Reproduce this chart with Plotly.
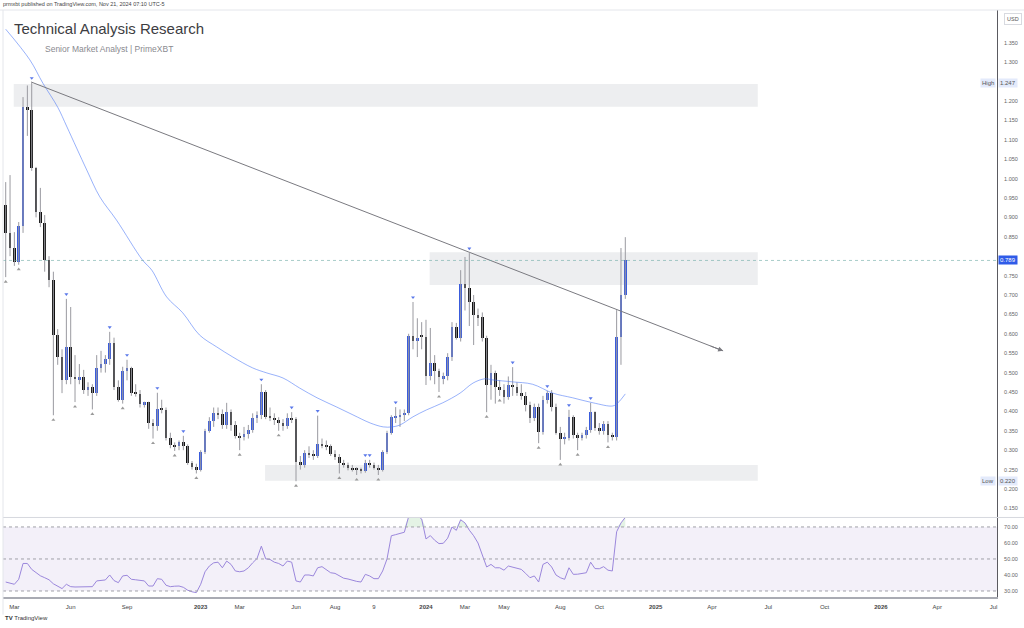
import pandas as pd
import plotly.graph_objects as go

# ---------------- data (weekly candles) ----------------
start_week = "2022-02-21"
open_ = [0.932,0.860,0.821,0.785,0.878,1.184,1.178,1.027,0.914,0.886,
         0.790,0.739,0.597,0.540,0.481,0.566,0.489,0.483,0.488,0.455,
         0.462,0.447,0.512,0.522,0.535,0.577,0.462,0.430,0.504,0.512,
         0.447,0.445,0.419,0.423,0.370,0.362,0.406,0.404,0.331,0.313,
         0.310,0.321,0.310,0.267,0.257,0.249,0.295,0.350,0.375,0.396,
         0.393,0.365,0.398,0.365,0.337,0.333,0.342,0.352,0.383,0.390,
         0.450,0.386,0.384,0.378,0.370,0.362,0.383,0.380,0.270,0.262,
         0.293,0.290,0.286,0.316,0.313,0.310,0.290,0.283,0.267,0.262,
         0.255,0.251,0.249,0.247,0.267,0.262,0.255,0.248,0.295,0.345,
         0.383,0.386,0.390,0.396,0.594,0.581,0.594,0.592,0.491,0.525,
         0.503,0.486,0.491,0.540,0.617,0.590,0.728,0.718,0.682,0.648,
         0.643,0.589,0.468,0.499,0.463,0.455,0.437,0.468,0.463,0.447,
         0.440,0.416,0.383,0.411,0.347,0.429,0.447,0.411,0.344,0.329,
         0.332,0.386,0.339,0.331,0.340,0.352,0.398,0.357,0.349,0.367,
         0.339,0.334,0.592,0.700]
high = [0.991,1.009,0.862,0.888,1.210,1.240,1.247,1.030,0.976,0.906,
        0.800,0.760,0.612,0.560,0.690,0.669,0.545,0.522,0.507,0.475,
        0.470,0.545,0.556,0.545,0.605,0.590,0.480,0.515,0.533,0.515,
        0.470,0.455,0.425,0.425,0.380,0.448,0.430,0.410,0.345,0.320,
        0.325,0.337,0.315,0.272,0.265,0.300,0.355,0.385,0.410,0.410,
        0.405,0.422,0.405,0.375,0.345,0.360,0.365,0.395,0.400,0.470,
        0.455,0.410,0.395,0.385,0.380,0.395,0.398,0.385,0.285,0.300,
        0.310,0.300,0.389,0.330,0.325,0.315,0.300,0.290,0.275,0.268,
        0.262,0.256,0.255,0.275,0.275,0.268,0.262,0.300,0.350,0.390,
        0.411,0.405,0.405,0.600,0.682,0.640,0.630,0.636,0.615,0.545,
        0.510,0.500,0.550,0.630,0.628,0.764,0.798,0.808,0.700,0.665,
        0.655,0.595,0.520,0.505,0.480,0.470,0.490,0.514,0.475,0.470,
        0.450,0.425,0.420,0.420,0.440,0.453,0.455,0.420,0.360,0.345,
        0.404,0.390,0.345,0.345,0.360,0.422,0.400,0.370,0.375,0.375,
        0.345,0.661,0.821,0.849]
low = [0.746,0.800,0.775,0.778,0.860,1.110,1.020,0.900,0.875,0.760,
       0.720,0.390,0.520,0.447,0.470,0.470,0.424,0.470,0.445,0.440,
       0.405,0.440,0.500,0.500,0.520,0.455,0.425,0.420,0.480,0.440,
       0.438,0.410,0.410,0.355,0.330,0.350,0.395,0.325,0.305,0.298,
       0.300,0.300,0.262,0.250,0.240,0.245,0.290,0.345,0.360,0.380,
       0.355,0.355,0.350,0.330,0.300,0.325,0.330,0.345,0.370,0.380,
       0.380,0.375,0.365,0.350,0.350,0.355,0.370,0.220,0.250,0.255,
       0.280,0.275,0.280,0.305,0.300,0.285,0.275,0.240,0.255,0.248,
       0.245,0.236,0.240,0.242,0.255,0.250,0.236,0.245,0.290,0.340,
       0.370,0.360,0.375,0.390,0.560,0.540,0.560,0.468,0.480,0.470,
       0.450,0.470,0.480,0.530,0.585,0.580,0.660,0.620,0.571,0.620,
       0.580,0.398,0.430,0.420,0.440,0.420,0.430,0.440,0.440,0.430,
       0.400,0.370,0.375,0.318,0.340,0.420,0.400,0.340,0.275,0.315,
       0.325,0.330,0.300,0.325,0.330,0.345,0.350,0.340,0.340,0.320,
       0.325,0.325,0.520,0.690]
close = [0.860,0.821,0.785,0.878,1.184,1.178,1.027,0.914,0.886,0.790,
         0.739,0.597,0.540,0.481,0.566,0.489,0.483,0.488,0.455,0.462,
         0.447,0.512,0.522,0.535,0.577,0.462,0.430,0.504,0.512,0.447,
         0.445,0.419,0.423,0.370,0.362,0.406,0.404,0.331,0.313,0.310,
         0.321,0.310,0.267,0.257,0.249,0.295,0.350,0.375,0.396,0.393,
         0.365,0.398,0.365,0.337,0.333,0.342,0.352,0.383,0.390,0.450,
         0.386,0.384,0.378,0.370,0.362,0.383,0.380,0.270,0.262,0.293,
         0.290,0.286,0.316,0.313,0.310,0.290,0.283,0.267,0.262,0.255,
         0.251,0.249,0.247,0.267,0.262,0.255,0.248,0.295,0.345,0.386,
         0.386,0.390,0.396,0.594,0.581,0.590,0.592,0.491,0.525,0.503,
         0.489,0.491,0.540,0.617,0.590,0.728,0.718,0.682,0.648,0.643,
         0.589,0.468,0.499,0.463,0.455,0.437,0.468,0.463,0.447,0.440,
         0.416,0.383,0.411,0.347,0.429,0.447,0.411,0.344,0.329,0.332,
         0.386,0.339,0.331,0.340,0.352,0.398,0.357,0.349,0.367,0.339,
         0.334,0.592,0.700,0.789]

rsi = [35.6,35.0,34.2,37.3,47.2,47.2,43.5,41.5,39.5,38.3,
       37.0,34.5,33.1,31.5,34.2,32.7,32.5,32.5,32.3,32.7,
       32.7,36.3,36.5,36.9,40.0,36.5,35.2,39.4,39.8,37.3,
       37.0,36.6,36.3,33.1,33.1,37.7,37.3,33.6,32.7,33.0,
       33.1,32.3,30.5,29.5,29.0,34.2,42.0,45.6,47.6,48.0,
       44.5,48.7,46.6,42.5,42.0,42.5,44.5,47.6,50.3,58.0,
       50.1,49.7,48.0,47.2,45.6,48.7,48.0,36.3,35.6,40.0,
       40.0,39.4,44.5,45.2,43.0,41.4,41.0,39.4,38.0,37.5,
       36.7,36.0,35.6,40.4,39.4,37.7,37.7,42.5,50.0,64.5,
       65.2,65.9,66.7,76.5,78.0,77.0,75.0,62.5,64.6,61.7,
       59.6,59.8,63.0,70.0,67.9,74.5,72.5,68.0,64.5,60.0,
       53.0,45.0,46.6,44.5,44.5,43.0,45.6,45.0,44.5,43.5,
       41.0,38.3,39.4,35.6,46.6,48.0,45.0,40.0,38.3,37.3,
       44.5,40.4,40.5,40.8,41.4,48.0,44.0,43.9,45.2,43.0,
       42.5,67.0,72.5,76.0]

ma_dates = ["2022-02-21","2022-04-01","2022-04-22","2022-05-16","2022-05-31",
            "2022-07-02","2022-07-23","2022-08-19","2022-09-30","2022-10-15",
            "2022-11-08","2022-12-04","2022-12-31","2023-01-28","2023-02-23",
            "2023-03-27","2023-04-19","2023-05-15","2023-06-11","2023-07-09",
            "2023-08-10","2023-09-05","2023-10-03","2023-10-24","2023-11-07",
            "2023-11-20","2023-12-11","2024-01-02","2024-01-28","2024-02-25",
            "2024-03-17","2024-04-05","2024-04-18","2024-05-20","2024-06-21",
            "2024-07-24","2024-08-25","2024-09-27","2024-10-29","2024-11-06",
            "2024-11-18"]
ma_values = [1.385,1.306,1.246,1.184,1.133,1.022,0.953,0.893,0.790,0.764,
             0.695,0.654,0.597,0.566,0.540,0.512,0.499,0.486,0.460,0.435,
             0.411,0.391,0.370,0.360,0.360,0.365,0.386,0.404,0.422,0.447,
             0.473,0.484,0.481,0.476,0.470,0.447,0.435,0.422,0.414,0.422,
             0.445]

pivot_high_idx = [6,14,24,28,35,41,59,66,72,83,84,90,94,107,117,125,130,135]
pivot_low_idx = [0,3,11,16,20,27,34,39,44,54,63,67,77,81,86,100,111,114,123,128,132,139]

trend_dates = ["2022-04-03", "2025-04-25"]
trend_prices = [1.249, 0.556]

zones = [  # (start date, end date, bottom price, top price)
    ("2022-03-06", "2025-06-20", 1.185, 1.244),
    ("2024-01-07", "2025-06-20", 0.726, 0.810),
    ("2023-04-16", "2025-06-20", 0.221, 0.262),
]

tick_dates = ["2022-03-07","2022-06-06","2022-09-05","2023-01-02","2023-03-06",
              "2023-06-05","2023-08-07","2023-10-09","2024-01-01","2024-03-04",
              "2024-05-06","2024-08-05","2024-10-07","2025-01-06","2025-04-07",
              "2025-07-07","2025-10-06","2026-01-05","2026-04-06","2026-07-06"]
tick_text = ["Mar","Jun","Sep","<b>2023</b>","Mar","Jun","Aug","9","<b>2024</b>","Mar",
             "May","Aug","Oct","<b>2025</b>","Apr","Jul","Oct","<b>2026</b>","Apr","Jul"]

# price scale labels (1.250 and 0.800 sit under the High / last-price badges)
price_ticks = [0.15, 0.20, 0.25, 0.30, 0.35, 0.40, 0.45, 0.50, 0.55, 0.60, 0.65,
               0.70, 0.75, 0.85, 0.90, 0.95, 1.00, 1.05, 1.10, 1.15, 1.20,
               1.30, 1.35]
rsi_ticks = [30, 40, 50, 60, 70]

# ---------------- styling ----------------
UP = "#3a5cdc"
DOWN = "#121212"
WICK = "#9a9aa0"
FONT = "Liberation Sans"

dates = pd.date_range(start_week, periods=len(close), freq="7D")
week_ms = 7 * 24 * 3600 * 1000

fig = go.Figure()

# wicks
wx, wy = [], []
for d, lo, hi in zip(dates, low, high):
    wx += [d, d, None]
    wy += [lo, hi, None]
fig.add_trace(go.Scatter(x=wx, y=wy, mode="lines", line=dict(color=WICK, width=1),
                         hoverinfo="skip", showlegend=False))

# bodies
base = [min(o, c) for o, c in zip(open_, close)]
height = [max(abs(c - o), 0.0035) for o, c in zip(open_, close)]
colors = [UP if c >= o else DOWN for o, c in zip(open_, close)]
fig.add_trace(go.Bar(x=dates, y=height, base=base, width=week_ms * 0.66,
                     marker=dict(color=colors, line=dict(width=0)), showlegend=False))

# moving average
fig.add_trace(go.Scatter(x=ma_dates, y=ma_values, mode="lines",
                         line=dict(color="rgba(70,115,245,0.55)", width=1, shape="spline"),
                         showlegend=False))

# trend line
fig.add_trace(go.Scatter(x=trend_dates, y=trend_prices, mode="lines",
                         line=dict(color="#7a7a80", width=1), showlegend=False))

# pivot markers
fig.add_trace(go.Scatter(x=[dates[i] for i in pivot_high_idx],
                         y=[high[i] + 0.012 for i in pivot_high_idx], mode="markers",
                         marker=dict(symbol="triangle-down", size=3.5, color="#5a78ea"),
                         showlegend=False))
fig.add_trace(go.Scatter(x=[dates[i] for i in pivot_low_idx],
                         y=[low[i] - 0.012 for i in pivot_low_idx], mode="markers",
                         marker=dict(symbol="triangle-up", size=3.5, color="#9a9a9a"),
                         showlegend=False))

# RSI pane
fig.add_trace(go.Scatter(x=dates, y=[70] * len(rsi), mode="lines", line=dict(width=0),
                         yaxis="y2", showlegend=False, hoverinfo="skip"))
fig.add_trace(go.Scatter(x=dates, y=[max(v, 70) for v in rsi], mode="lines",
                         line=dict(width=0), fill="tonexty",
                         fillcolor="rgba(76,175,80,0.15)", yaxis="y2",
                         showlegend=False, hoverinfo="skip"))
fig.add_trace(go.Scatter(x=dates, y=rsi, mode="lines",
                         line=dict(color="#9b87dc", width=1), yaxis="y2", showlegend=False))

shapes = []
for x0, x1, y0, y1 in zones:
    shapes.append(dict(type="rect", xref="x", yref="y", x0=x0, x1=x1, y0=y0, y1=y1,
                       fillcolor="rgba(220,221,226,0.5)", line=dict(width=0), layer="below"))
# current price dotted line
shapes.append(dict(type="line", xref="paper", yref="y", x0=0, x1=1, y0=close[-1], y1=close[-1],
                   line=dict(color="rgba(110,170,165,0.6)", width=1, dash="dot")))
# RSI band and levels
shapes.append(dict(type="rect", xref="paper", yref="y2", x0=0, x1=1, y0=30, y1=70,
                   fillcolor="rgba(126,87,194,0.09)", line=dict(width=0), layer="below"))
for lv in (70, 50, 30):
    shapes.append(dict(type="line", xref="paper", yref="y2", x0=0, x1=1, y0=lv, y1=lv,
                       line=dict(color="#a0a0a8", width=1, dash="dot")))
# pane separator and frame
shapes.append(dict(type="line", xref="paper", yref="paper", x0=0, x1=1.03, y0=0.1355, y1=0.1355,
                   line=dict(color="#d6d8de", width=1)))
shapes.append(dict(type="line", xref="paper", yref="paper", x0=-0.01, x1=1.03, y0=1, y1=1,
                   line=dict(color="#e4e6eb", width=1)))
shapes.append(dict(type="line", xref="paper", yref="paper", x0=0, x1=0, y0=-0.03, y1=1,
                   line=dict(color="#e4e6eb", width=1)))

annotations = [
    dict(x=trend_dates[1], y=trend_prices[1], xref="x", yref="y", ax=-14, ay=-5.4,
         axref="pixel", ayref="pixel", showarrow=True, arrowhead=2, arrowsize=1,
         arrowwidth=1, arrowcolor="#7a7a80", text=""),
    dict(x=0.0, y=1.0, xref="paper", yref="paper", xanchor="left", yanchor="top",
         xshift=9, yshift=-8, text="Technical Analysis Research", showarrow=False,
         font=dict(family=FONT, size=15, color="#3d3d42")),
    dict(x=0.0, y=1.0, xref="paper", yref="paper", xanchor="left", yanchor="top",
         xshift=40, yshift=-32, text="Senior Market Analyst | PrimeXBT", showarrow=False,
         font=dict(family=FONT, size=8.5, color="#8a8a90")),
    dict(x=0, y=1, xref="paper", yref="paper", xanchor="left", yanchor="bottom",
         xshift=-2, yshift=1, text="prmxbt published on TradingView.com, Nov 21, 2024 07:10 UTC-5",
         showarrow=False, font=dict(family=FONT, size=5.5, color="#444")),
    dict(x=0, y=0, xref="paper", yref="paper", xanchor="left", yanchor="top",
         xshift=0, yshift=-16, text="<b>TV</b> TradingView", showarrow=False,
         font=dict(family=FONT, size=6, color="#333")),
    dict(x=1, y=1, xref="paper", yref="paper", xanchor="left", yanchor="top",
         xshift=7, yshift=-3, text="USD", showarrow=False, bgcolor="white",
         bordercolor="#d8dae0", borderwidth=1, borderpad=2,
         font=dict(family=FONT, size=5.5, color="#555")),
    # current price label
    dict(x=1, y=close[-1], xref="paper", yref="y", xanchor="left", xshift=1,
         text=f"{close[-1]:.3f}", showarrow=False, bgcolor="#2f5be8", borderpad=1,
         font=dict(family=FONT, size=6, color="white")),
    # high / low labels
    dict(x=1, y=max(high), xref="paper", yref="y", xanchor="left", xshift=1,
         text=f"{max(high):.3f}", showarrow=False, bgcolor="#e3eafb", borderpad=1,
         font=dict(family=FONT, size=6, color="#555")),
    dict(x=1, y=max(high), xref="paper", yref="y", xanchor="right", xshift=-1,
         text="High", showarrow=False, bgcolor="#e3eafb", borderpad=1,
         font=dict(family=FONT, size=6, color="#555")),
    dict(x=1, y=min(low), xref="paper", yref="y", xanchor="left", xshift=1,
         text=f"{min(low):.3f}", showarrow=False, bgcolor="#e3eafb", borderpad=1,
         font=dict(family=FONT, size=6, color="#555")),
    dict(x=1, y=min(low), xref="paper", yref="y", xanchor="right", xshift=-1,
         text="Low", showarrow=False, bgcolor="#e3eafb", borderpad=1,
         font=dict(family=FONT, size=6, color="#555")),
]

fig.update_layout(
    width=1024, height=628,
    margin=dict(l=3, r=27, t=10, b=31),
    paper_bgcolor="white", plot_bgcolor="white",
    showlegend=False, bargap=0,
    font=dict(family=FONT, size=6, color="#555"),
    shapes=shapes, annotations=annotations,
    xaxis=dict(type="date", range=["2022-02-16 15:00", "2026-07-11 12:00"],
               anchor="y2", showgrid=False, zeroline=False,
               tickmode="array", tickvals=tick_dates, ticktext=tick_text,
               tickfont=dict(family=FONT, size=6, color="#444"), ticks="",
               showline=True, linecolor="#a9abb3", linewidth=2, ticklabelstandoff=3),
    yaxis=dict(domain=[0.1363, 1.0], range=[0.1278, 1.4345], side="right",
               showgrid=False, zeroline=False, tickmode="array",
               tickvals=price_ticks, ticktext=[f"{v:.3f}" for v in price_ticks],
               tickfont=dict(family=FONT, size=5.5, color="#666"), ticks="",
               showline=True, linecolor="#5a5a60", linewidth=1, ticklabelstandoff=5),
    yaxis2=dict(domain=[0.0, 0.1346], range=[26.25, 75.6], side="right",
                showgrid=False, zeroline=False, tickmode="array",
                tickvals=rsi_ticks, ticktext=[f"{v:.2f}" for v in rsi_ticks],
                tickfont=dict(family=FONT, size=5.5, color="#666"), ticks="",
                showline=True, linecolor="#5a5a60", linewidth=1, ticklabelstandoff=5),
)

fig.write_html("out.html")
